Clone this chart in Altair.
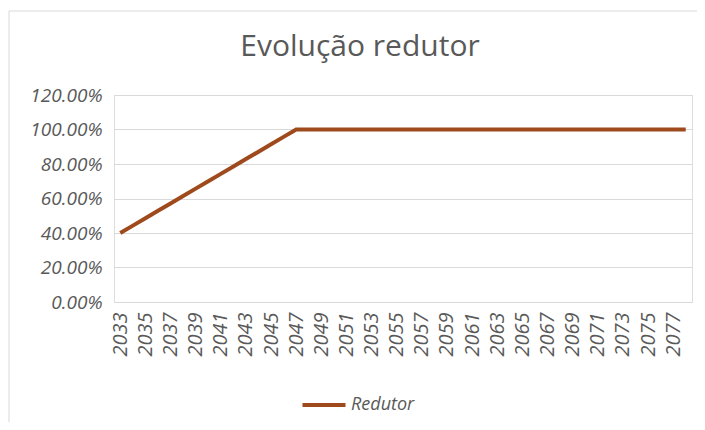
import altair as alt
import pandas as pd

years = list(range(2033, 2079))
values = [0.4000, 0.4429, 0.4857, 0.5286, 0.5714, 0.6143, 0.6571, 0.7000,
          0.7429, 0.7857, 0.8286, 0.8714, 0.9143, 0.9571, 1.0000] + [1.0000] * 31
series = ["Redutor"] * len(years)
tick_years = list(range(2033, 2078, 2))
y_ticks = [0, 0.2, 0.4, 0.6, 0.8, 1.0, 1.2]

df = pd.DataFrame({"Ano": years, "Valor": values, "Serie": series})

W, H = 578, 207
FONT = "Open Sans"
GRAY = "#595959"

frame = alt.Chart(pd.DataFrame({"a": [0]})).mark_rect(
    fill=None, stroke="#d9d9d9", strokeWidth=1, clip=False
).encode(
    x=alt.value(-105), x2=alt.value(W + 40), y=alt.value(-84), y2=alt.value(H + 160)
)

line = alt.Chart(df).mark_line(strokeWidth=4, clip=False).encode(
    x=alt.X("Ano:Q",
            scale=alt.Scale(domain=[2032.5, 2078.5], nice=False, zero=False),
            axis=alt.Axis(values=tick_years, format="d", labelAngle=270, labelAlign="right",
                          labelBaseline="middle", labelFontSize=20, labelColor=GRAY,
                          labelFont=FONT, labelFontStyle="italic", domain=False, ticks=False,
                          grid=False, title=None, labelPadding=10)),
    y=alt.Y("Valor:Q",
            scale=alt.Scale(domain=[0, 1.2], nice=False),
            axis=alt.Axis(values=y_ticks, format=".2%", labelFontSize=19, labelColor=GRAY,
                          labelFont=FONT, labelFontStyle="italic", domain=False, ticks=False,
                          gridColor="#d9d9d9", gridWidth=1, title=None, labelPadding=12)),
    color=alt.Color("Serie:N", scale=alt.Scale(range=["#9E4A1C"]),
                    legend=alt.Legend(title=None, orient="none", legendX=186, legendY=286,
                                      symbolType="stroke", symbolSize=1850, symbolStrokeWidth=4,
                                      labelFontSize=18, labelColor=GRAY, labelFont=FONT,
                                      labelFontStyle="italic", labelOffset=3)),
)

chart = alt.layer(frame, line).properties(
    width=W, height=H,
    title=alt.Title("Evolução redutor", fontSize=30, font=FONT, fontWeight="normal",
                    color=GRAY, anchor="middle", frame="group", offset=-51, dx=-43),
    autosize=alt.AutoSizeParams(type="none"),
    padding={"left": 106, "top": 87, "right": 5, "bottom": 120},
).configure_view(stroke=None).configure(background="white")

chart.save("out.html", embed_options={"renderer": "svg", "actions": False})
